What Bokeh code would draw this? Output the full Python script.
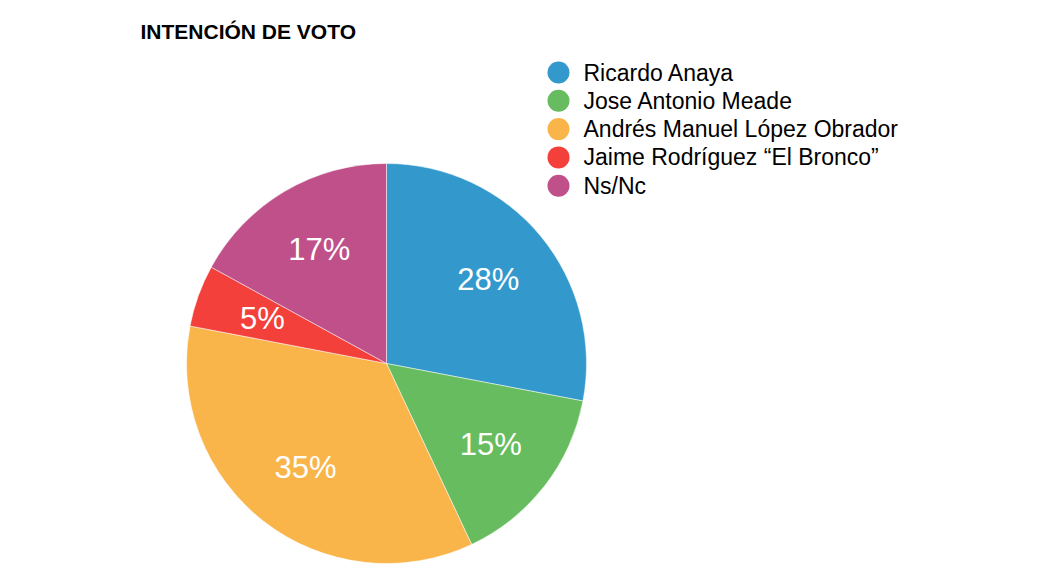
import math

from bokeh.core.properties import value
from bokeh.embed import file_html
from bokeh.models import ColumnDataSource, Range1d
from bokeh.plotting import figure
from bokeh.resources import INLINE

candidatos = [
    'Ricardo Anaya',
    'Jose Antonio Meade',
    'Andrés Manuel López Obrador',
    'Jaime Rodríguez “El Bronco”',
    'Ns/Nc',
]
porcentajes = [28, 15, 35, 5, 17]
colores = ['#3399cd', '#66bc5e', '#fab54a', '#f4403a', '#c0508a']

W, H = 1040, 570
cx, cy, r = 386, H - 363, 200

# angulos: empieza arriba y va en sentido horario
total = sum(porcentajes)
inicio, fin, lx, ly = [], [], [], []
acum = 0
for v in porcentajes:
    a0 = math.pi / 2 - 2 * math.pi * (acum + v) / total
    a1 = math.pi / 2 - 2 * math.pi * acum / total
    inicio.append(a0)
    fin.append(a1)
    mid = (a0 + a1) / 2
    lx.append(cx + r * 0.66 * math.cos(mid))
    ly.append(cy + r * 0.66 * math.sin(mid))
    acum += v

src = ColumnDataSource(dict(
    nombre=candidatos,
    pct=porcentajes,
    etiqueta=[f'{v}%' for v in porcentajes],
    color=colores,
    a0=inicio,
    a1=fin,
    lx=lx,
    ly=ly,
    legx=[558] * len(candidatos),
    legy=[H - (72 + 28.3 * i) for i in range(len(candidatos))],
    tx=[583] * len(candidatos),
    ty=[H - (72 + 28.3 * i) for i in range(len(candidatos))],
))

p = figure(
    width=W, height=H,
    x_range=Range1d(0, W), y_range=Range1d(0, H),
    toolbar_location=None, output_backend='svg',
    min_border=0,
)
p.axis.visible = False
p.grid.visible = False
p.outline_line_color = None

p.wedge(x=cx, y=cy, radius=r, start_angle='a0', end_angle='a1',
        fill_color='color', line_color='white', line_width=0.5,
        source=src)

p.text(x='lx', y='ly', text='etiqueta', source=src,
       text_color='white', text_font=value('Liberation Sans'),
       text_font_size='31px', text_align='center', text_baseline='middle')

# leyenda
p.scatter(x='legx', y='legy', size=22, color='color', line_color=None,
          source=src)
p.text(x='tx', y='ty', text='nombre', source=src,
       text_color='black', text_font=value('Liberation Sans'),
       text_font_size='23px', text_align='left', text_baseline='middle')

# titulo
p.text(x=[140], y=[H - 31], text=['INTENCIÓN DE VOTO'],
       text_color='black', text_font=value('Liberation Sans'),
       text_font_style='bold', text_font_size='21px',
       text_align='left', text_baseline='middle')

open('out.html', 'w').write(file_html(p, INLINE))
